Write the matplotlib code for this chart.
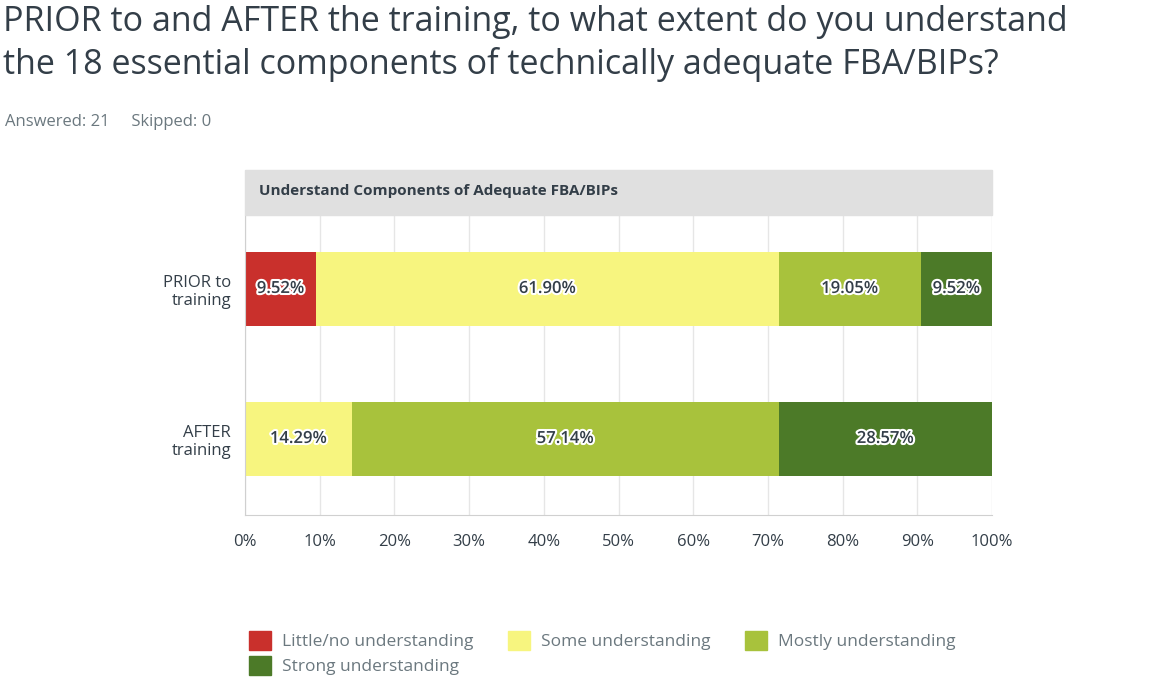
import matplotlib.pyplot as plt
import matplotlib.patheffects as pe
from matplotlib.patches import Rectangle

plt.rcParams['font.family'] = ['Open Sans', 'DejaVu Sans']

categories = ['PRIOR to\ntraining', 'AFTER\ntraining']
series = ['Little/no understanding', 'Some understanding',
          'Mostly understanding', 'Strong understanding']
values = {
    'Little/no understanding': [9.52, 0.0],
    'Some understanding': [61.90, 14.29],
    'Mostly understanding': [19.05, 57.14],
    'Strong understanding': [9.52, 28.57],
}
colors = ['#c9302c', '#f7f57f', '#a8c23c', '#4c7a28']
ticks = list(range(0, 101, 10))

W, H = 1156, 686
fig = plt.figure(figsize=(W / 100, H / 100), dpi=100)

fig.text(3 / W, 1 - 22 / H, 'PRIOR to and AFTER the training, to what extent do you understand',
         fontsize=24.5, color='#333e48', va='center', ha='left')
fig.text(3 / W, 1 - 65 / H, 'the 18 essential components of technically adequate FBA/BIPs?',
         fontsize=24.5, color='#333e48', va='center', ha='left')
fig.text(5 / W, 1 - 122 / H, 'Answered: 21     Skipped: 0', fontsize=12,
         color='#6b787f', va='center')

# header band
fig.patches.append(Rectangle((245 / W, 1 - 215 / H), (992 - 245) / W, 45 / H,
                             transform=fig.transFigure, color='#e0e0e0', zorder=0))
fig.text(259 / W, 1 - 191 / H, 'Understand Components of Adequate FBA/BIPs',
         fontsize=11, fontweight='bold', color='#333e48', va='center')

ax = fig.add_axes([245 / W, 1 - 515 / H, (992 - 245) / W, 300 / H])
left = [0.0, 0.0]
outline = [pe.withStroke(linewidth=3, foreground='white')]
for name, c in zip(series, colors):
    v = values[name]
    ax.barh([0, 1], v, left=left, height=0.49, color=c, zorder=2)
    for i in range(2):
        if v[i] > 0:
            ax.text(left[i] + v[i] / 2, i, f'{v[i]:.2f}%', ha='center', va='center',
                    fontsize=12, fontweight='semibold', color='#333e48',
                    path_effects=outline, zorder=3)
    left = [a + b for a, b in zip(left, v)]

ax.set_xlim(0, 100)
ax.set_ylim(1.507, -0.493)
ax.set_xticks(ticks)
ax.set_xticklabels([f'{t}%' for t in ticks], fontsize=12, color='#333e48')
ax.set_yticks([0, 1])
ax.set_yticklabels(categories, fontsize=12, color='#333e48', ha='right')
ax.tick_params(length=0, pad=14)
ax.tick_params(axis='y', pad=10)
ax.grid(axis='x', color='#e6e6e6', linewidth=1, zorder=0)
ax.set_axisbelow(True)
for s in ['top', 'right']:
    ax.spines[s].set_visible(False)
ax.spines['left'].set_color('#d0d0d0')
ax.spines['bottom'].set_color('#d0d0d0')

handles = [Rectangle((0, 0), 1, 1, color=c) for c in colors]
order = [0, 3, 1, 2]
fig.legend([handles[k] for k in order], [series[k] for k in order],
           loc='upper left', bbox_to_anchor=(233 / W, 1 - 615 / H),
           ncol=3, frameon=False, fontsize=12.5, handlelength=1.3, handleheight=1.3,
           columnspacing=2.0, handletextpad=0.6, labelspacing=0.35,
           labelcolor='#6b787f')

fig.savefig('out.png', dpi=100)
